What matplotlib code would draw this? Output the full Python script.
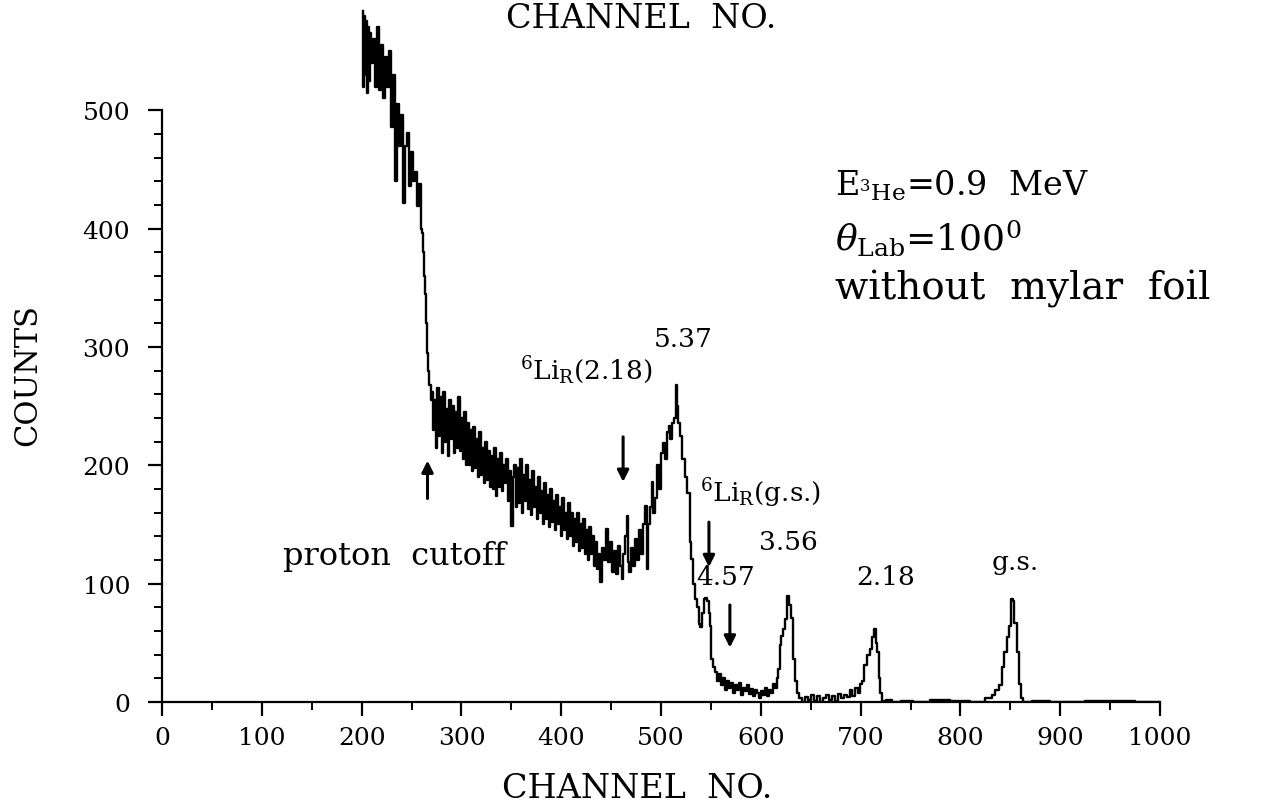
import matplotlib
matplotlib.use("Agg")
import matplotlib.pyplot as plt
import numpy as np

# spectrum: (channel, counts)
channel = [
    201, 202, 203, 204, 205, 206, 207, 208, 209, 210, 212, 214, 216, 218, 220,
    222, 224, 226, 228, 230, 232, 234, 236, 238, 240, 242, 244, 246, 248, 250,
    252, 254, 256, 258, 260, 261, 262, 263, 264, 265, 266, 267, 268, 270,
    271, 272, 274, 275, 277, 278, 280, 281, 283, 284, 286, 287, 289, 290, 292,
    293, 295, 296, 298, 299, 301, 302, 304, 305,
    307, 308, 310, 311, 313, 314, 316, 317, 319, 320, 322, 323, 325, 326, 328,
    329, 331, 332, 334, 335, 337, 338, 340, 341, 343, 344, 346, 347, 349, 351,
    352, 354, 355, 357, 358, 360, 361, 363, 364, 366, 367, 369, 370, 372, 373,
    375, 376, 378, 379, 381, 382, 384, 385, 387, 388, 390, 391, 393, 394, 396,
    397, 399, 400, 402, 403, 405, 406, 408, 409, 411, 412, 414, 415, 417, 418,
    420, 421, 423, 424, 426, 427, 429, 430, 432, 433, 435, 436, 438, 440, 442,
    444, 446, 448, 450, 452, 454, 456, 458, 460, 461, 463, 465, 466, 467, 469,
    471, 473, 475, 477, 479, 481, 483, 485, 486, 488, 490, 491, 493, 495, 497,
    499, 501, 503, 505, 507, 508, 510, 512, 514, 515, 516, 518, 520, 523, 525,
    528, 530, 531, 533, 535, 537, 539, 540, 542, 544, 545, 547, 549, 550, 551,
    553, 555, 557, 559, 561, 563, 565, 567, 569, 571, 573, 575, 577, 579, 581,
    583, 585, 587, 589, 591, 593, 595, 597, 599, 601, 603, 605, 607, 609, 611,
    613, 615, 617, 618, 620, 621, 623, 625, 627, 629, 631, 633, 635, 637, 640,
    643, 646, 649, 652, 655, 658, 661, 664, 667, 670, 673, 676, 679, 682, 685,
    688, 690, 693, 696, 698, 700, 702, 705, 708, 710, 712, 714, 716, 717, 719,
    720, 723, 728, 735, 745, 760, 780, 800, 820, 830, 833, 837, 840, 843, 845,
    848, 850, 852, 853, 855, 858, 860, 861, 864, 880, 900, 950, 1000,
]
counts = [
    584, 520, 580, 530, 575, 515, 570, 525, 565, 540, 560, 520, 570, 517, 555,
    510, 545, 520, 550, 486, 530, 440, 505, 470, 496, 422, 470, 481, 436, 465,
    440, 448, 419, 438, 400, 396, 380, 360, 345, 320, 295, 280, 268, 255,
    262, 230, 255, 215, 265, 225, 258, 210, 262, 220, 248, 208, 255, 222, 250,
    210, 245, 215, 258, 212, 240, 205, 245, 200,
    236, 200, 230, 195, 232, 198, 222, 190, 228, 192, 215, 185, 220, 188, 212,
    182, 208, 180, 215, 174, 205, 182, 210, 178, 200, 185, 205, 170, 195, 149,
    190, 200, 165, 198, 168, 205, 160, 192, 170, 200, 163, 188, 158, 195, 165,
    182, 155, 190, 160, 178, 150, 185, 155, 175, 148, 180, 152, 170, 145, 175,
    150, 165, 140, 172, 145, 160, 138, 168, 140, 160, 132, 155, 135, 160, 128,
    150, 130, 155, 125, 145, 120, 148, 125, 140, 115, 135, 112, 125, 101, 130,
    120, 146, 118, 135, 110, 128, 108, 132, 115, 104, 125, 140, 157, 118, 110,
    130, 115, 138, 120, 145, 125, 150, 166, 112, 150, 165, 186, 160, 172, 200,
    180, 210, 219, 205, 228, 233, 222, 236, 240, 268, 250, 236, 225, 205, 190,
    177, 135, 121, 100, 87, 80, 66, 63, 75, 87, 88, 85, 75, 64, 36,
    30, 25, 18, 24, 14, 20, 10, 18, 12, 16, 8, 14, 10, 16, 6,
    12, 9, 14, 7, 11, 5, 10, 8, 3, 9, 6, 12, 5, 10, 8,
    15, 12, 20, 28, 48, 56, 62, 70, 90, 82, 71, 36, 18, 8, 3,
    0, 4, 2, 6, 1, 5, 0, 3, 6, 2, 5, 1, 7, 3, 6,
    4, 10, 5, 12, 8, 15, 18, 31, 40, 45, 55, 62, 50, 42, 20,
    8, 1, 2, 0, 1, 0, 2, 1, 0, 3, 6, 10, 14, 30, 42,
    55, 64, 87, 85, 67, 42, 15, 3, 0, 1, 0, 1, 0,
]

x_ticks = [0, 100, 200, 300, 400, 500, 600, 700, 800, 900, 1000]
y_ticks = [0, 100, 200, 300, 400, 500]

# peak labels: text, channel, counts
peak_labels = ["5.37", "3.56", "4.57", "2.18", "g.s."]
peak_x = [522, 628, 565, 725, 855]
peak_y = [307, 136, 106, 106, 119]

# arrows: channel, tail counts, head counts
arrow_x = [266, 462, 548, 569]
arrow_from = [172, 224, 152, 82]
arrow_to = [204, 186, 114, 46]

plt.rcParams["font.family"] = ["DejaVu Serif"]
plt.rcParams["mathtext.fontset"] = "dejavuserif"

fig = plt.figure(figsize=(12.7, 8.03), dpi=100)
ax = fig.add_axes([0.1276, 0.1245, 0.7858, 0.8755])

ax.plot(channel, counts, color="black", lw=1.7, drawstyle="steps-mid")

ax.set_xlim(0, 1000)
ax.set_ylim(0, 594)
ax.spines["top"].set_visible(False)
ax.spines["right"].set_visible(False)
ax.spines["left"].set_bounds(0, 500)
ax.spines["bottom"].set_bounds(0, 1000)
for s in ("left", "bottom"):
    ax.spines[s].set_linewidth(1.6)

ax.set_xticks(x_ticks)
ax.set_xticks(np.arange(50, 1000, 100), minor=True)
ax.set_yticks(y_ticks)
ax.set_yticks([v for v in range(20, 500, 20) if v % 100], minor=True)
ax.tick_params(which="major", length=10, width=1.6, labelsize=18)
ax.tick_params(which="minor", length=6, width=1.4)
ax.tick_params(axis="y", pad=13)
ax.tick_params(axis="x", pad=7)

fig.text(0.502, 0.006, "CHANNEL  NO.", ha="center", va="baseline", fontsize=24)
fig.text(0.505, 0.996, "CHANNEL  NO.", ha="center", va="top", fontsize=24)
fig.text(0.022, 0.533, "COUNTS", rotation=90, ha="center", va="center", fontsize=22)

ax.text(233, 124, "proton  cutoff", ha="center", va="center", fontsize=23)
ax.text(425, 281, r"$^{6}$Li$_{\mathrm{R}}$(2.18)", ha="center", va="center", fontsize=19)
ax.text(600, 177, r"$^{6}$Li$_{\mathrm{R}}$(g.s.)", ha="center", va="center", fontsize=19)
for lab, px, py in zip(peak_labels, peak_x, peak_y):
    ax.text(px, py, lab, ha="center", va="center", fontsize=19)

for ax_x, y0, y1 in zip(arrow_x, arrow_from, arrow_to):
    ax.annotate("", xy=(ax_x, y1), xytext=(ax_x, y0),
                arrowprops=dict(arrowstyle="-|>", color="black", lw=2.2,
                                mutation_scale=17, shrinkA=0, shrinkB=0))

ax.text(674, 437, r"E$_{^3\mathrm{He}}$=0.9  MeV", ha="left", va="center", fontsize=24)
ax.text(674, 393, r"$\theta_{\mathrm{Lab}}$=100$^0$", ha="left", va="center", fontsize=26)
ax.text(674, 350, "without  mylar  foil", ha="left", va="center", fontsize=28)

fig.savefig("out.png", dpi=100)
